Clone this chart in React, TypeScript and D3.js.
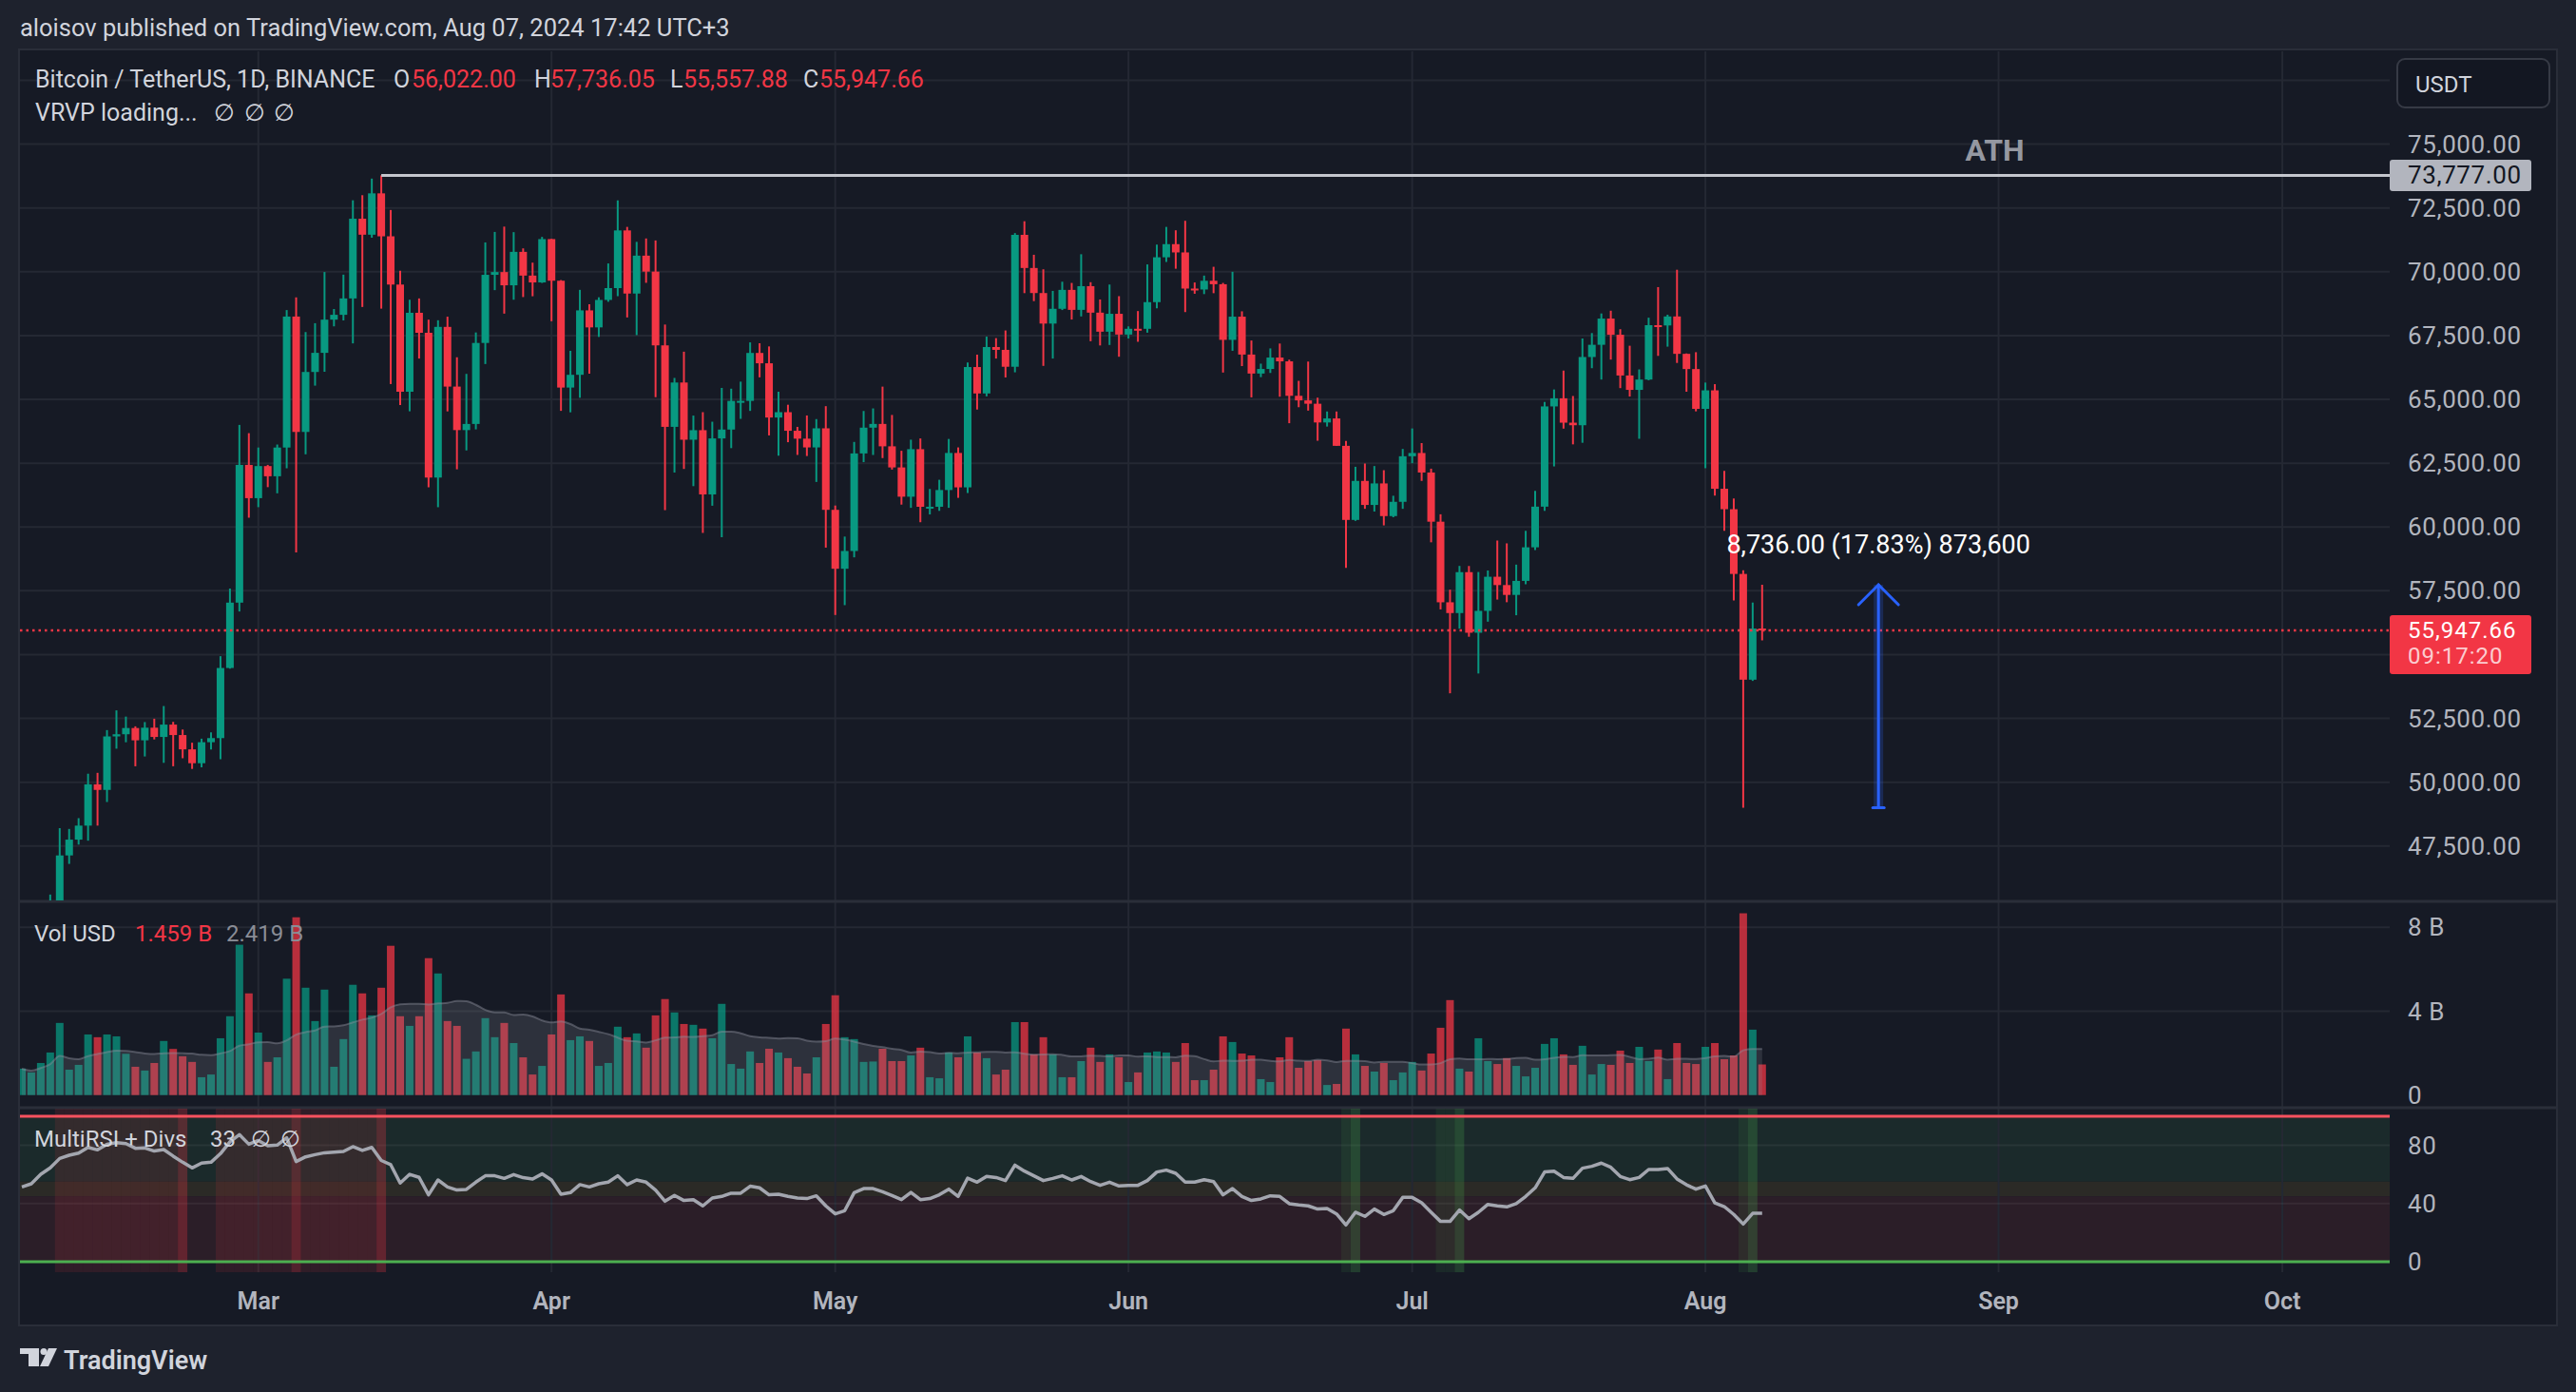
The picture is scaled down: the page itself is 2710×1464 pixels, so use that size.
import React from 'react';
import * as d3 from 'd3';

// ---- chart data (BTCUSDT 1D, Binance), first bar = 2024-02-05 ----
const firstDay = new Date(Date.UTC(2024, 1, 5));

const closes = [
  42658, 43084, 44342, 45288, 47132, 47751, 48300, 49917, 49699, 51795,
  51880, 52124, 51642, 52137, 51774, 52258, 51849, 51288, 50745, 51568,
  51729, 54476, 57037, 62432, 61130,
  62387, 61988, 63113, 68245, 63724, 66074, 66823, 68124, 68313, 68955,
  72078, 71452, 73072, 71389, 69499, 65300, 68393, 67609, 61937, 67840,
  65501, 63796, 64037, 67211, 69880, 69988, 69469, 70780, 69850, 69582, 71280,
  69649, 65463, 65963, 68487, 67820, 68896, 69360, 71620, 69146, 70631,
  70006, 67116, 63924, 65661, 63419, 63793, 61277, 63470, 63818, 64940,
  64941, 66819, 66414, 64289, 64498, 63770, 63461, 63118, 63866, 60672,
  58364, 59060, 62882, 63892, 64038, 63161, 62334, 61187, 63049, 60792,
  60793, 61448, 62901, 61553, 66267, 65232, 67051, 66940, 66278, 71446,
  70148, 69166, 67970, 68549, 69290, 68507, 69436, 68398, 67652, 68352, 67540,
  67766, 67765, 68810, 70567, 71082, 70758, 69342, 69305, 69647, 69512,
  67332, 68241, 66756, 66012, 66191, 66639, 66490, 65140, 64960, 64829,
  64096, 64253, 63180, 60277, 61806, 60864, 61707, 60427, 60987, 62772,
  62899, 62135, 60208, 57050, 56628, 58231, 55857, 56714, 58051, 57725,
  57339, 57889, 59204, 60797, 64724, 65043, 64087, 63987, 66660, 67139,
  68165, 67532, 65936, 65372, 65777, 67907, 67896, 68249, 66784, 66188, 64628,
  65354, 61498, 60697, 58161, 54018, 56022, 55947.66,
];

const opens = [42580, ...closes.slice(0, -1)];

const highs = [
  43494, 43375, 44370, 45600, 48200, 48170, 48592, 50334, 50368, 52043,
  52816, 52572, 52191, 52357, 52488, 52985, 52366, 52065, 51548, 51706,
  51958, 54938, 57588, 64000, 63676,
  63114, 62433, 63231, 68499, 69000, 67637, 67985, 69990, 68541, 69887,
  72800, 73000, 73650, 73777, 72420, 70044, 68904, 68956, 68124, 68100,
  68240, 66650, 65999, 67622, 71150, 71561, 71769, 71552, 70916, 70357, 71366,
  71288, 69674, 66903, 69291, 68725, 69000, 70326, 72797, 71758, 71172,
  71305, 71227, 67932, 65840, 66868, 64365, 64499, 64125, 65450, 65419,
  65695, 67233, 67199, 67075, 65297, 64790, 63923, 64370, 64228, 64734,
  60841, 59625, 63333, 64545, 64646, 65500, 64390, 62986, 63421, 63469,
  61490, 61850, 63450, 63118, 66444, 66752, 67459, 67400, 67700, 71515,
  71979, 70666, 70096, 69250, 69610, 69562, 70687, 69591, 68915, 69500, 69044,
  67860, 68460, 70288, 71063, 71758, 71625, 71997, 69581, 69850, 70195,
  69563, 69999, 68450, 67307, 66400, 66998, 67188, 66556, 65727, 66482,
  65067, 64526, 64525, 63369, 62359, 62487, 62389, 62225, 61224, 63058,
  63861, 63288, 62285, 60498, 57546, 58475, 58472, 58237, 58296, 59470,
  59359, 58526, 59850, 61420, 64900, 65388, 66128, 65133, 67386, 67598,
  68366, 68474, 67750, 67102, 66175, 68200, 69399, 68318, 70079, 66800, 66849,
  65659, 65596, 62198, 61117, 58305, 57040, 57736.05,
];

const lows = [
  42258, 42566, 42788, 44332, 45242, 46800, 47557, 47710, 48300, 49225,
  51314, 51566, 50625, 51009, 51677, 50760, 50626, 50940, 50521, 50585,
  51279, 50901, 54450, 56690, 60364,
  60777, 61561, 61320, 62300, 59005, 62848, 65538, 66082, 67861, 68094,
  67194, 68620, 71334, 68555, 65600, 64780, 64533, 66600, 61555, 60775,
  64529, 62260, 63000, 63825, 66385, 69280, 68359, 68904, 69009, 69040, 69562,
  68062, 64550, 64493, 65064, 66011, 67447, 68824, 69043, 68210, 67518,
  69567, 65086, 60660, 62134, 62274, 61600, 59768, 60833, 59600, 63090,
  64237, 64548, 65864, 63589, 62795, 63322, 62824, 62781, 61765, 59191,
  56552, 56938, 58811, 62541, 62822, 62700, 62250, 60877, 60750, 60187,
  60492, 60632, 60750, 61142, 61330, 64602, 65119, 66600, 65858, 66060,
  69162, 68850, 66312, 66600, 68500, 68128, 68250, 67278, 67113, 67131, 66670,
  67386, 67257, 67613, 68567, 70384, 70119, 68420, 69138, 69125, 69160,
  66051, 66903, 66304, 65078, 65871, 66035, 65104, 64066, 64693, 64560,
  63379, 63935, 63178, 58402, 60239, 60712, 60606, 60063, 60383, 60712,
  62497, 61806, 59400, 56771, 53485, 56018, 55700, 54260, 56290, 57157,
  57052, 56542, 57756, 59097, 60632, 62373, 63854, 63238, 63300, 66222,
  65777, 66559, 65441, 65111, 63456, 65748, 66705, 67066, 66428, 65300, 64530,
  62303, 61230, 59850, 57122, 49000, 53970, 55557.88,
];

// volume in billions of USD
const volumesB = [
  1.26, 1.08, 1.53, 2.03, 3.44, 1.21, 1.44, 2.89, 2.76, 2.89,
  2.80, 1.97, 1.35, 1.17, 1.53, 2.58, 2.20, 1.85, 1.58, 0.85,
  0.98, 2.71, 3.76, 7.17, 4.85, 2.98, 1.58, 1.80, 5.55, 8.48,
  5.12, 3.53, 5.03, 1.35, 2.67, 5.26, 4.85, 3.80, 5.12, 7.12,
  3.76, 3.30, 3.76, 6.53, 5.80, 3.53, 3.30, 1.73, 2.08, 3.67,
  2.76, 3.44, 2.48, 1.80, 0.98, 1.39, 2.89, 4.80, 2.62, 2.80,
  2.58, 1.39, 1.53, 3.26, 2.76, 2.94, 2.26, 3.80, 4.58, 3.94,
  3.39, 3.35, 3.17, 2.71, 4.35, 1.48, 1.26, 2.08, 1.53, 2.21,
  2.03, 1.76, 1.35, 1.03, 1.80, 3.39, 4.76, 2.76, 2.67, 1.58,
  1.60, 2.21, 1.62, 1.62, 1.89, 2.26, 0.85, 0.80, 2.03, 1.80,
  2.80, 2.03, 1.76, 0.98, 1.21, 3.48, 3.48, 1.94, 2.76, 1.94,
  0.85, 0.85, 1.62, 2.26, 1.58, 1.94, 1.80, 0.62, 1.08, 2.03,
  2.08, 2.03, 1.58, 2.48, 0.71, 0.71, 1.21, 2.80, 2.53, 1.98,
  1.89, 0.76, 0.62, 1.80, 2.76, 1.30, 1.62, 1.67, 0.48, 0.53,
  3.17, 1.94, 1.39, 1.12, 1.53, 0.71, 1.08, 1.58, 1.17, 1.98,
  3.21, 4.53, 1.26, 1.12, 2.71, 1.62, 1.48, 1.76, 1.39, 0.89,
  1.30, 2.44, 2.71, 1.94, 1.44, 2.35, 0.98, 1.48, 1.44, 2.12,
  1.53, 2.30, 1.62, 2.17, 0.76, 2.48, 1.53, 1.48, 2.30, 2.48,
  1.71, 1.89, 8.67, 3.12, 1.459,
];
const volumeMaLast = 2.419;

// MultiRSI values
const rsiValues = [
  51.4, 53.6, 60.1, 64.5, 71.0, 73.2, 74.7, 78.6, 76.9, 80.8,
  81.9, 81.2, 78.0, 78.2, 76.1, 77.1, 72.6, 68.4, 64.5, 67.8,
  68.4, 74.3, 82.4, 87.4, 80.8, 83.4, 79.7, 80.2, 85.2, 68.9,
  72.1, 73.6, 74.9, 75.4, 75.8, 79.1, 76.5, 78.6, 69.6, 66.7,
  54.1, 60.1, 58.0, 46.0, 56.2, 51.4, 49.3, 49.7, 54.7, 59.1,
  59.1, 57.3, 59.9, 57.8, 56.9, 60.4, 56.2, 46.4, 47.5, 53.0,
  51.4, 53.6, 54.7, 59.1, 53.0, 56.2, 54.7, 49.3, 41.6, 45.6,
  42.1, 42.7, 38.4, 43.8, 44.9, 47.1, 47.1, 51.9, 50.8, 46.0,
  46.4, 44.9, 43.8, 43.4, 45.3, 38.4, 32.9, 35.1, 47.5, 50.3,
  50.3, 48.1, 45.5,
  42.7, 47.7, 42.7, 43.4, 46.0, 49.9, 44.9, 57.5, 54.7, 58.6,
  57.9, 55.8, 66.4, 62.3, 59.1, 55.8, 57.3, 59.1, 56.2, 58.6,
  55.1, 52.5, 54.7, 52.1, 52.5, 52.5, 55.8, 61.7, 63.0, 60.8,
  54.7, 54.7, 56.4, 55.1, 46.0, 50.3, 44.9, 42.1, 43.2, 45.3,
  44.9, 39.9, 39.0, 38.4, 36.2, 36.6, 32.9, 25.3, 34.0, 31.2,
  36.2, 32.5, 35.1, 44.2, 44.2, 40.5, 34.0, 27.7, 27.7, 35.6,
  29.6, 34.0, 39.4, 38.4, 37.7, 39.9, 44.9, 50.8, 61.7, 62.3,
  57.9, 57.3, 64.3, 65.6, 67.8, 64.9, 58.6, 56.4, 57.9, 63.4,
  63.4, 64.1, 56.9, 52.9, 49.9, 52.1, 40.5, 37.9, 32.5, 25.9,
  33.3, 33.3,
];

const overboughtBars = [4, 5, 6, 7, 8, 9, 10, 11, 12, 13, 14, 15, 16, 21, 22, 23, 24, 25, 26, 27, 28, 30, 31, 32, 33, 34, 35, 36, 37];
const overboughtExitBars = [17, 29, 38];
const oversoldBars = [140, 150, 151, 182];
const oversoldExitBars = [141, 152, 183];

const priceTicks = [47500, 50000, 52500, 55000, 57500, 60000, 62500, 65000, 67500, 70000, 72500, 75000, 77500];
const volumeTicks = [0, 4, 8];
const rsiTicks = [0, 40, 80];
const rsiZoneLevels = [100, 55, 45, 0];

const athPrice = 73777;
const athBar = 38;
const athLabelBar = 208.6;
const countdown = '09:17:20';
const measureBar = 196.3;
const measureLow = 49000;
const measureHigh = 57736;

// ---- look ----
const W = 2710;
const H = 1464;
const FONT = "Roboto, 'Noto Sans', 'DejaVu Sans', sans-serif";
const GREEN = '#089981';
const RED = '#f23645';
const TEXT = '#d1d4dc';
const AXIS_TEXT = '#b2b5be';
const GRID = '#242833';
const PANE_BG = '#161a25';
const PAGE_BG = '#1e222d';

const PLOT_L = 21;
const PLOT_R = 2514;
const PRICE_TOP = 54;
const PRICE_BOT = 947;
const VOL_TOP = 950;
const VOL_BOT = 1163;
const RSI_TOP = 1166;
const RSI_BOT = 1338;
const AXIS_X = 2533;

export default function App() {
  const n = closes.length;
  const x = d3.scaleLinear().domain([0, n - 1]).range([23, 23 + 9.95 * (n - 1)]);
  const yPrice = d3.scaleLinear().domain([47500, 75000]).range([889.8, 151.6]);
  const yVol = d3.scaleLinear().domain([0, 8]).range([1151.7, 975.3]);
  const yRsi = d3.scaleLinear().domain([0, 100]).range([1327, 1174]);

  const monthStarts = d3.utcMonth.range(new Date(Date.UTC(2024, 2, 1)), new Date(Date.UTC(2024, 9, 2)));
  const monthX = monthStarts.map((m) => x(d3.utcDay.count(firstDay, m)));
  const monthFmt = d3.utcFormat('%b');
  const fmt2 = d3.format(',.2f');

  const volMa = volumesB.map((_, i) => d3.mean(volumesB.slice(Math.max(0, i - 19), i + 1)) as number);
  const maArea = d3
    .area<number>()
    .x((_, i) => x(i))
    .y0(yVol(0))
    .y1((d) => yVol(d))
    .curve(d3.curveMonotoneX)(volMa) || '';
  const maLine = d3
    .line<number>()
    .x((_, i) => x(i))
    .y((d) => yVol(d))
    .curve(d3.curveMonotoneX)(volMa) || '';
  const rsiPath = d3
    .line<number>()
    .x((_, i) => x(i))
    .y((d) => yRsi(d))(rsiValues) || '';

  const last = n - 1;
  const lastUp = closes[last] >= opens[last];
  const legendColor = lastUp ? GREEN : RED;
  const step = x(1) - x(0);

  // price label boxes on the axis hide the tick labels beneath them
  const lastBoxTop = yPrice(closes[last]) - 16;
  const lastBoxBot = lastBoxTop + 62;
  const athBoxTop = yPrice(athPrice) - 16.5;
  const athBoxBot = athBoxTop + 33;
  const visiblePriceTicks = priceTicks.filter((t) => {
    const yy = yPrice(t);
    if (t > 77000) return false; // hidden behind the currency button
    if (yy + 12 > lastBoxTop && yy - 12 < lastBoxBot) return false;
    if (yy + 12 > athBoxTop && yy - 12 < athBoxBot) return false;
    return true;
  });

  const diff = measureHigh - measureLow;
  const measureText = `${fmt2(diff)} (${((diff / measureLow) * 100).toFixed(2)}%) ${d3.format(',')(Math.round(diff * 100))}`;
  const mx = x(measureBar);

  const stripe = (bars: number[], fill: string, key: string) =>
    bars.map((b) => (
      <rect key={`${key}-${b}`} x={x(b) - step / 2} y={RSI_TOP} width={step} height={RSI_BOT - RSI_TOP} fill={fill} />
    ));

  return (
    <div style={{ position: 'absolute', left: 0, top: 0 }}>
      <svg width={W} height={H} style={{ display: 'block' }} fontFamily={FONT}>
        <defs>
          <clipPath id="pricePane">
            <rect x={PLOT_L} y={PRICE_TOP} width={PLOT_R - PLOT_L} height={PRICE_BOT - PRICE_TOP} />
          </clipPath>
          <clipPath id="volPane">
            <rect x={PLOT_L} y={VOL_TOP} width={PLOT_R - PLOT_L} height={VOL_BOT - VOL_TOP} />
          </clipPath>
        </defs>

        <rect x={0} y={0} width={W} height={H} fill={PAGE_BG} />
        <text x={21} y={38} fontSize={25.5} fill={TEXT}>
          aloisov published on TradingView.com, Aug 07, 2024 17:42 UTC+3
        </text>

        {/* frame */}
        <rect x={20} y={52} width={2670} height={1342} fill={PANE_BG} stroke="#2a2e39" strokeWidth={2} />

        {/* RSI zones */}
        <rect x={PLOT_L} y={yRsi(rsiZoneLevels[0])} width={PLOT_R - PLOT_L} height={yRsi(rsiZoneLevels[1]) - yRsi(rsiZoneLevels[0])} fill="#1b2a2b" />
        <rect x={PLOT_L} y={yRsi(rsiZoneLevels[1])} width={PLOT_R - PLOT_L} height={yRsi(rsiZoneLevels[2]) - yRsi(rsiZoneLevels[1])} fill="#2b2a26" />
        <rect x={PLOT_L} y={yRsi(rsiZoneLevels[2])} width={PLOT_R - PLOT_L} height={yRsi(rsiZoneLevels[3]) - yRsi(rsiZoneLevels[2])} fill="#2b1e28" />

        {/* grid */}
        <g stroke={GRID} strokeWidth={2}>
          {monthX.map((mxv, i) => (
            <line key={`vg-${i}`} x1={mxv} x2={mxv} y1={PRICE_TOP} y2={RSI_BOT} />
          ))}
          {priceTicks.map((t) => (
            <line key={`pg-${t}`} x1={PLOT_L} x2={PLOT_R} y1={yPrice(t)} y2={yPrice(t)} />
          ))}
          {volumeTicks.slice(1).map((t) => (
            <line key={`vgl-${t}`} x1={PLOT_L} x2={PLOT_R} y1={yVol(t)} y2={yVol(t)} />
          ))}
        </g>
        <g stroke="rgba(255,255,255,0.06)" strokeWidth={2}>
          {rsiTicks.slice(1).map((t) => (
            <line key={`rg-${t}`} x1={PLOT_L} x2={PLOT_R} y1={yRsi(t)} y2={yRsi(t)} />
          ))}
        </g>

        {/* pane separators */}
        <line x1={PLOT_L} x2={2689} y1={948} y2={948} stroke="#2a2e39" strokeWidth={3} />
        <line x1={PLOT_L} x2={2689} y1={1165} y2={1165} stroke="#2a2e39" strokeWidth={3} />

        {/* candles */}
        <g clipPath="url(#pricePane)">
          {closes.map((c, i) => {
            const o = opens[i];
            const col = c >= o ? GREEN : RED;
            const top = yPrice(Math.max(o, c));
            const bot = yPrice(Math.min(o, c));
            return (
              <g key={`c-${i}`}>
                <line x1={x(i)} x2={x(i)} y1={yPrice(highs[i])} y2={yPrice(lows[i])} stroke={col} strokeWidth={2} />
                <rect x={x(i) - 4} y={top} width={8} height={Math.max(2, bot - top)} fill={col} />
              </g>
            );
          })}

          {/* ATH line */}
          <line x1={x(athBar)} x2={PLOT_R} y1={yPrice(athPrice)} y2={yPrice(athPrice)} stroke="#c4c6cd" strokeWidth={3} />
          <text x={x(athLabelBar)} y={yPrice(athPrice) - 15} textAnchor="middle" fontSize={32} fontWeight={700} fill="#9598a1">
            ATH
          </text>

          {/* current price line */}
          <line
            x1={PLOT_L}
            x2={PLOT_R}
            y1={yPrice(closes[last])}
            y2={yPrice(closes[last])}
            stroke={RED}
            strokeWidth={2.5}
            strokeDasharray="2.5,4"
          />

          {/* price range measure */}
          <rect x={mx - 5} y={yPrice(measureHigh)} width={10} height={yPrice(measureLow) - yPrice(measureHigh)} fill="rgba(41,98,255,0.22)" />
          <g stroke="#2962ff" strokeWidth={3} fill="none" strokeLinecap="round">
            <line x1={mx} x2={mx} y1={yPrice(measureHigh)} y2={yPrice(measureLow)} />
            <line x1={mx - 6} x2={mx + 6} y1={yPrice(measureLow)} y2={yPrice(measureLow)} />
            <polyline points={`${mx - 21},${yPrice(measureHigh) + 21} ${mx},${yPrice(measureHigh)} ${mx + 21},${yPrice(measureHigh) + 21}`} />
          </g>
          <text x={mx} y={yPrice(measureHigh) - 33} textAnchor="middle" fontSize={27} fill="#ffffff">
            {measureText}
          </text>
        </g>

        {/* volume */}
        <g clipPath="url(#volPane)">
          {volumesB.map((v, i) => (
            <rect
              key={`v-${i}`}
              x={x(i) - 4}
              y={yVol(v)}
              width={8}
              height={yVol(0) - yVol(v)}
              fill={closes[i] >= opens[i] ? GREEN : RED}
              fillOpacity={0.74}
            />
          ))}
          <path d={maArea} fill="rgba(140,143,155,0.2)" />
          <path d={maLine} fill="none" stroke="rgba(140,143,155,0.45)" strokeWidth={2} />
        </g>

        {/* RSI pane */}
        {stripe(overboughtBars, 'rgba(242,54,69,0.12)', 'ob')}
        {stripe(overboughtExitBars, 'rgba(242,54,69,0.28)', 'obx')}
        {stripe(oversoldBars, 'rgba(76,175,80,0.1)', 'os')}
        {stripe(oversoldExitBars, 'rgba(76,175,80,0.24)', 'osx')}
        <line x1={PLOT_L} x2={PLOT_R} y1={yRsi(100)} y2={yRsi(100)} stroke="#f7525f" strokeWidth={3} />
        <line x1={PLOT_L} x2={PLOT_R} y1={yRsi(0)} y2={yRsi(0)} stroke="#4caf50" strokeWidth={3} />
        <path d={rsiPath} fill="none" stroke="#a3a6af" strokeWidth={3.5} strokeLinejoin="round" />

        {/* legends */}
        <g fontSize={25}>
          <text x={37} y={92} fill={TEXT}>Bitcoin / TetherUS, 1D, BINANCE</text>
          <text x={414} y={92} fill={TEXT}>O</text>
          <text x={433} y={92} fill={legendColor}>{fmt2(opens[last])}</text>
          <text x={562} y={92} fill={TEXT}>H</text>
          <text x={579} y={92} fill={legendColor}>{fmt2(highs[last])}</text>
          <text x={705} y={92} fill={TEXT}>L</text>
          <text x={719} y={92} fill={legendColor}>{fmt2(lows[last])}</text>
          <text x={845} y={92} fill={TEXT}>C</text>
          <text x={862} y={92} fill={legendColor}>{fmt2(closes[last])}</text>
          <text x={37} y={127} fill={TEXT}>VRVP loading...</text>
          <text x={225} y={127} fill={TEXT}>∅</text>
          <text x={257} y={127} fill={TEXT}>∅</text>
          <text x={288} y={127} fill={TEXT}>∅</text>
        </g>
        <g fontSize={24}>
          <text x={36} y={990} fill={TEXT}>Vol USD</text>
          <text x={142} y={990} fill={legendColor}>{`${volumesB[last].toFixed(3)} B`}</text>
          <text x={238} y={990} fill="#8a8d96">{`${volumeMaLast.toFixed(3)} B`}</text>

          <text x={36} y={1206} fill={TEXT}>MultiRSI + Divs</text>
          <text x={221} y={1206} fill={TEXT}>{Math.round(rsiValues[last])}</text>
          <text x={264} y={1206} fill={TEXT}>∅</text>
          <text x={295} y={1206} fill={TEXT}>∅</text>
        </g>

        {/* price axis */}
        <rect x={2522} y={62} width={160} height={51} rx={8} fill="#131722" stroke="#363a45" strokeWidth={2} />
        <text x={2541} y={97} fontSize={24} fill={TEXT}>USDT</text>
        <g fontSize={26} fill={AXIS_TEXT} letterSpacing={0.6}>
          {visiblePriceTicks.map((t) => (
            <text key={`pl-${t}`} x={AXIS_X} y={yPrice(t) + 9}>
              {fmt2(t)}
            </text>
          ))}
          {volumeTicks.map((t) => (
            <text key={`vl-${t}`} x={AXIS_X} y={yVol(t) + 9}>
              {t === 0 ? '0' : `${t} B`}
            </text>
          ))}
          {rsiTicks.map((t) => (
            <text key={`rl-${t}`} x={AXIS_X} y={yRsi(t) + 9}>
              {t}
            </text>
          ))}
        </g>

        {/* ATH price label */}
        <rect x={2514} y={athBoxTop} width={149} height={athBoxBot - athBoxTop} rx={3} fill="#b2b5be" />
        <text x={AXIS_X} y={yPrice(athPrice) + 9} fontSize={26} letterSpacing={0.6} fill="#131722">
          {fmt2(athPrice)}
        </text>

        {/* last price label with countdown on a second line */}
        <rect x={2514} y={lastBoxTop} width={149} height={lastBoxBot - lastBoxTop} rx={3} fill={RED} />
        <text x={AXIS_X} y={yPrice(closes[last]) + 8} fontSize={24} letterSpacing={1} fill="#ffffff">
          <tspan x={AXIS_X}>{fmt2(closes[last])}</tspan>
          <tspan x={AXIS_X} dy={27} fill="rgba(255,255,255,0.75)">
            {countdown}
          </tspan>
        </text>

        {/* time axis */}
        <g fontSize={25} fontWeight={600} fill={AXIS_TEXT} textAnchor="middle">
          {monthStarts.map((m, i) => (
            <text key={`tl-${i}`} x={monthX[i]} y={1377}>
              {monthFmt(m)}
            </text>
          ))}
        </g>

        {/* TradingView logo */}
        <g fill={TEXT}>
          <rect x={21} y={1418} width={20} height={6} />
          <rect x={30} y={1418} width={11} height={19} />
          <circle cx={46} cy={1421.5} r={3.5} />
          <polygon points="51,1418 60,1418 51,1437 42,1437" />
          <text x={67} y={1440} fontSize={27} fontWeight={600}>TradingView</text>
        </g>
      </svg>
    </div>
  );
}
